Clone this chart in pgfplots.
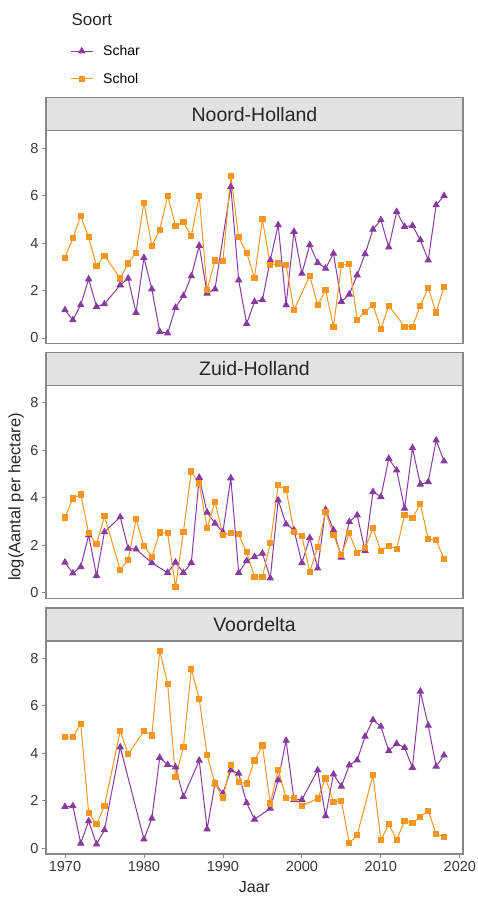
\documentclass[border=0pt]{standalone}
\usepackage{fontspec}
\setmainfont{Liberation Sans}
\usepackage{pgfplots}
\pgfplotsset{compat=1.18}
\definecolor{schar}{RGB}{136,58,160}
\definecolor{schol}{RGB}{245,150,35}
\definecolor{frame}{RGB}{135,135,135}
\definecolor{stripfill}{RGB}{226,226,226}
\definecolor{ticklab}{RGB}{55,55,55}
\pgfplotsset{
 panel/.style={
  scale only axis, width=417pt, height=213pt,
  xmin=1967.6, xmax=2020.4, ymin=-0.24, ymax=8.73,
  ytick={0,2,4,6,8},
  axis line style={frame, line width=1.1pt},
  tick style={frame, line width=0.8pt},
  major tick length=4pt,
  tick align=outside, tick pos=left,
  ticklabel style={font=\fontsize{14.5}{14.5}\selectfont, text=ticklab},
  /pgf/number format/assume math mode=true,
  /pgf/number format/1000 sep={},
  clip=false,
 },
 scharS/.style={schar, line width=1pt, mark=triangle*, mark size=3.4pt, mark options={solid}},
 scholS/.style={schol, line width=1pt, mark=square*, mark size=2.6pt, mark options={solid}},
}
\begin{document}
\begin{tikzpicture}
\useasboundingbox (0,0) rectangle (478pt,-897pt);
% ---------------- Panel 1
\begin{axis}[panel, name=p1, at={(46pt,-343.7pt)}, anchor=south west, xtick=\empty,
  legend style={at={(0.0576,1.411)}, anchor=north west, draw=none, fill=none,
    font=\fontsize{14}{14}\selectfont, row sep=12pt, inner sep=0pt, nodes={inner sep=2pt}},
  legend cell align=left,
  legend image code/.code={\draw[mark repeat=2,mark phase=2] plot coordinates {(0pt,0pt) (11pt,0pt) (22pt,0pt)}; \path (30pt,0pt);}]
\addplot[scharS] coordinates {
(1970,1.18) (1971,0.76) (1972,1.39) (1973,2.48) (1974,1.32) (1975,1.43) (1977,2.23) (1978,2.51) (1979,1.07) (1980,3.38)
(1981,2.06) (1982,0.27) (1983,0.20) (1984,1.28) (1985,1.78) (1986,2.61) (1987,3.89) (1988,1.88) (1989,2.06) (1991,6.37)
(1992,2.44) (1993,0.60) (1994,1.53) (1995,1.60) (1996,3.28) (1997,4.76) (1998,1.39) (1999,4.48) (2000,2.72) (2001,3.92)
(2002,3.17) (2003,2.93) (2004,3.56) (2005,1.53) (2006,1.84) (2007,2.65) (2008,3.54) (2009,4.57) (2010,4.97) (2011,3.82)
(2012,5.32) (2013,4.69) (2014,4.73) (2015,4.13) (2016,3.28) (2017,5.60) (2018,5.99)};
\addlegendentry{Schar}
\addplot[scholS] coordinates {
(1970,3.38) (1971,4.20) (1972,5.14) (1973,4.24) (1974,3.03) (1975,3.47) (1977,2.51) (1978,3.14) (1979,3.59) (1980,5.70)
(1981,3.89) (1982,4.55) (1983,5.99) (1984,4.72) (1985,4.87) (1986,4.31) (1987,5.98) (1988,2.02) (1989,3.26) (1990,3.24)
(1991,6.83) (1992,4.24) (1993,3.59) (1994,2.54) (1995,5.00) (1996,3.07) (1997,3.14) (1998,3.07) (1999,1.18) (2001,2.62)
(2002,1.39) (2003,2.02) (2004,0.48) (2005,3.07) (2006,3.10) (2007,0.76) (2008,1.11) (2009,1.39) (2010,0.38) (2011,1.36)
(2013,0.48) (2014,0.48) (2015,1.36) (2016,2.12) (2017,1.07) (2018,2.16)};
\addlegendentry{Schol}
\end{axis}
% ---------------- Panel 2
\begin{axis}[panel, name=p2, at={(46pt,-598.2pt)}, anchor=south west, xtick=\empty]
\addplot[scharS] coordinates {
(1970,1.27) (1971,0.81) (1972,1.08) (1973,2.42) (1974,0.71) (1975,2.55) (1977,3.18) (1978,1.86) (1979,1.82) (1981,1.25)
(1983,0.83) (1984,1.27) (1985,0.83) (1986,1.25) (1987,4.84) (1988,3.37) (1989,2.91) (1990,2.55) (1991,4.82) (1992,0.83)
(1993,1.33) (1994,1.50) (1995,1.65) (1996,0.60) (1997,3.89) (1998,2.88) (1999,2.63) (2000,1.25) (2001,2.30) (2002,1.02)
(2003,3.49) (2004,2.63) (2005,1.48) (2006,2.98) (2007,3.26) (2008,1.76) (2009,4.24) (2010,4.03) (2011,5.64) (2012,5.15)
(2013,3.54) (2014,6.09) (2015,4.55) (2016,4.66) (2017,6.41) (2018,5.53)};
\addplot[scholS] coordinates {
(1970,3.16) (1971,3.96) (1972,4.13) (1973,2.49) (1974,2.03) (1975,3.21) (1977,0.95) (1978,1.37) (1979,3.08) (1980,1.97)
(1981,1.50) (1982,2.53) (1983,2.49) (1984,0.22) (1985,2.55) (1986,5.10) (1987,4.59) (1988,2.72) (1989,3.82) (1990,2.42)
(1991,2.49) (1992,2.45) (1993,1.69) (1994,0.66) (1995,0.66) (1996,2.07) (1997,4.52) (1998,4.34) (1999,2.56) (2000,2.37)
(2001,0.87) (2002,1.93) (2003,3.40) (2004,2.42) (2005,1.58) (2006,2.49) (2007,1.67) (2008,1.86) (2009,2.70) (2010,1.74)
(2011,1.97) (2012,1.83) (2013,3.26) (2014,3.14) (2015,3.72) (2016,2.25) (2017,2.21) (2018,1.41)};
\end{axis}
% ---------------- Panel 3
\begin{axis}[panel, name=p3, at={(46pt,-854pt)}, anchor=south west, xtick={1970,1980,1990,2000,2010,2020}]
\addplot[scharS] coordinates {
(1970,1.75) (1971,1.78) (1972,0.21) (1973,1.15) (1974,0.17) (1975,0.77) (1977,4.26) (1980,0.38) (1981,1.26) (1982,3.82)
(1983,3.52) (1984,3.42) (1985,2.17) (1987,3.70) (1988,0.81) (1989,2.73) (1990,2.31) (1991,3.29) (1992,3.15) (1993,1.91)
(1994,1.22) (1996,1.68) (1997,2.87) (1998,4.54) (1999,2.05) (2000,2.05) (2002,3.29) (2003,1.36) (2004,3.12) (2005,2.61)
(2006,3.50) (2007,3.71) (2008,4.71) (2009,5.41) (2010,5.13) (2011,4.10) (2012,4.41) (2013,4.24) (2014,3.40) (2015,6.61)
(2016,5.17) (2017,3.45) (2018,3.92)};
\addplot[scholS] coordinates {
(1970,4.68) (1971,4.68) (1972,5.25) (1973,1.50) (1974,1.01) (1975,1.78) (1977,4.94) (1978,3.96) (1980,4.94) (1981,4.75)
(1982,8.32) (1983,6.92) (1984,3.00) (1985,4.26) (1986,7.55) (1987,6.29) (1988,3.92) (1989,2.73) (1990,2.14) (1991,3.52)
(1992,2.79) (1993,2.73) (1994,3.70) (1995,4.33) (1996,1.89) (1997,3.31) (1998,2.12) (1999,2.12) (2000,1.79) (2002,2.10)
(2003,2.94) (2004,1.96) (2005,2.00) (2006,0.21) (2007,0.56) (2009,3.08) (2010,0.35) (2011,1.02) (2012,0.35) (2013,1.16)
(2014,1.07) (2015,1.33) (2016,1.58) (2017,0.60) (2018,0.49)};
\end{axis}
% ---------------- Strips
\foreach \p/\t in {p1/Noord-Holland, p2/Zuid-Holland, p3/Voordelta}{
  \draw[frame, line width=1.1pt, fill=stripfill] (\p.north west) rectangle ([yshift=33pt]\p.north east);
  \node[font=\fontsize{19.5}{19.5}\selectfont, text=black!85] at ([yshift=16.5pt]\p.north) {\t};
}
% ---------------- Labels
\node[font=\fontsize{16}{16}\selectfont, text=black!85] at (254.5pt,-887pt) {Jaar};
\node[font=\fontsize{16.5}{16.5}\selectfont, text=black!85, rotate=90] at (16pt,-497pt) {log(Aantal per hectare)};
\node[font=\fontsize{17}{17}\selectfont, text=black!85, anchor=west] at (68pt,-20pt) {Soort};
\end{tikzpicture}
\end{document}
